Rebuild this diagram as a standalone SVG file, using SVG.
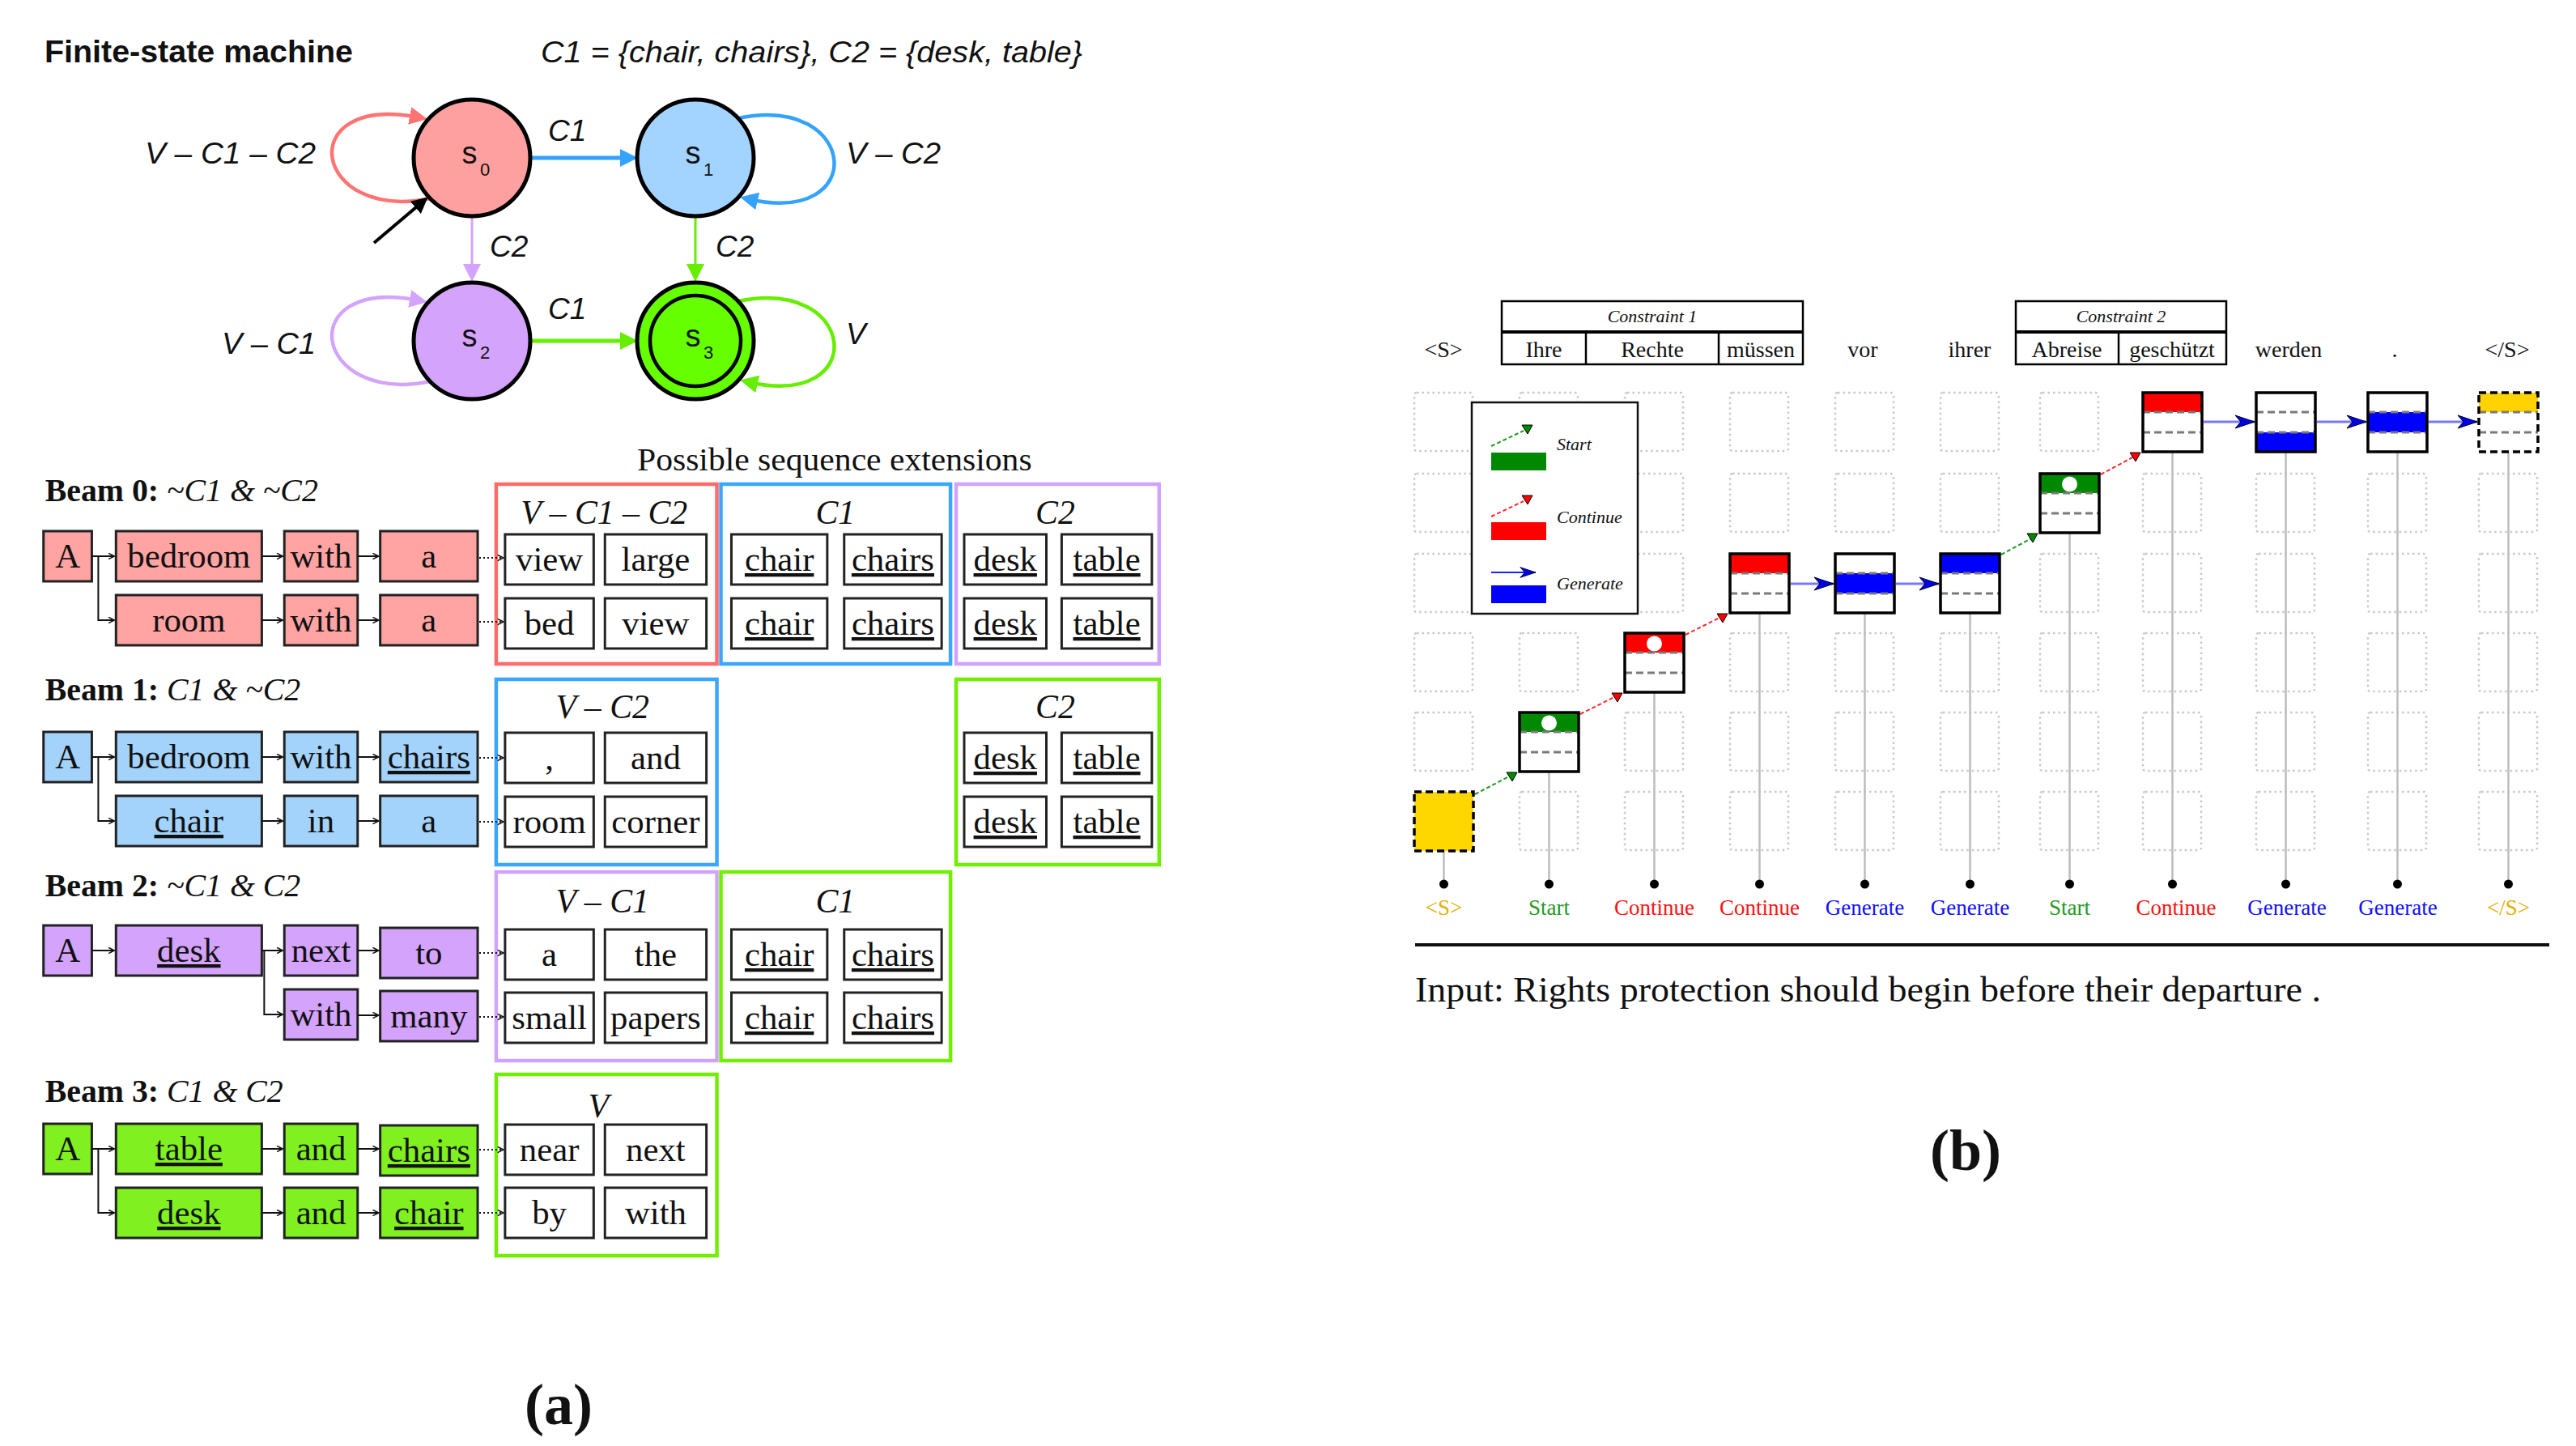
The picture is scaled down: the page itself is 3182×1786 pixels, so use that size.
<svg xmlns="http://www.w3.org/2000/svg" xmlns:xlink="http://www.w3.org/1999/xlink" width="3182" height="1786" viewBox="0 0 3182 1786">
<style>
.fl{font-family:"Liberation Sans",Arial,sans-serif;font-style:italic;font-size:37px;fill:#111}
.w{font-family:"Liberation Serif","Times New Roman",serif;font-size:43px;text-anchor:middle;fill:#111}
.ul{text-decoration:underline}
.hdr{font-family:"Liberation Serif","Times New Roman",serif;font-style:italic;font-size:42px;text-anchor:middle;fill:#111}
.beam{font-family:"Liberation Serif","Times New Roman",serif;font-size:40px;fill:#111}
.bR{fill:#ffa3a3;stroke:#222;stroke-width:3}
.bB{fill:#a3d3fb;stroke:#222;stroke-width:3}
.bL{fill:#d4a3fc;stroke:#222;stroke-width:3}
.bG{fill:#80f020;stroke:#222;stroke-width:3}
.bW{fill:#fff;stroke:#222;stroke-width:3}
.grp{fill:none;stroke-width:4.5}
.sa{stroke:#111;stroke-width:2;fill:none;marker-end:url(#sm)}
.sd{stroke:#111;stroke-width:2;fill:none;stroke-dasharray:2 3;marker-end:url(#sm)}
.dot{fill:none;stroke:#c8c8c8;stroke-width:2.5;stroke-dasharray:2.5 4}
.bb{fill:none;stroke:#000;stroke-width:3.5}
.bbd{fill:none;stroke:#000;stroke-width:3.5;stroke-dasharray:9 5}
.gl{stroke:#7a7a7a;stroke-width:3;stroke-dasharray:9 5}
.vl{stroke:#bdbdbd;stroke-width:2.5}
.gen{stroke:#7878ff;stroke-width:3;fill:none;marker-end:url(#stealth)}
.st{stroke:#1f9a1f;stroke-width:2;stroke-dasharray:5 3;fill:none}
.co{stroke:#ff2a2a;stroke-width:2;stroke-dasharray:5 3;fill:none}
.trG{fill:#008800;stroke:#000;stroke-width:1}
.trR{fill:#ff0000;stroke:#000;stroke-width:1}
.lbl{font-family:"Liberation Serif","Times New Roman",serif;font-size:27px;text-anchor:middle}
.tw{font-family:"Liberation Serif","Times New Roman",serif;font-size:28px;text-anchor:middle;fill:#111}
.ci{font-family:"Liberation Serif","Times New Roman",serif;font-style:italic;font-size:22px;text-anchor:middle;fill:#111}
.lg{font-family:"Liberation Serif","Times New Roman",serif;font-style:italic;font-size:22px;fill:#111}
</style>
<defs>
<marker id="mR" viewBox="0 0 10 10" refX="5" refY="5" markerWidth="22" markerHeight="22" markerUnits="userSpaceOnUse" orient="auto"><path d="M0,0 L10,5 L0,10 z" fill="#ff7373"/></marker>
<marker id="mB" viewBox="0 0 10 10" refX="5" refY="5" markerWidth="22" markerHeight="22" markerUnits="userSpaceOnUse" orient="auto"><path d="M0,0 L10,5 L0,10 z" fill="#35a2ff"/></marker>
<marker id="mL" viewBox="0 0 10 10" refX="5" refY="5" markerWidth="22" markerHeight="22" markerUnits="userSpaceOnUse" orient="auto"><path d="M0,0 L10,5 L0,10 z" fill="#d4a3fc"/></marker>
<marker id="mG" viewBox="0 0 10 10" refX="5" refY="5" markerWidth="22" markerHeight="22" markerUnits="userSpaceOnUse" orient="auto"><path d="M0,0 L10,5 L0,10 z" fill="#66ee00"/></marker>
<marker id="mK" viewBox="0 0 10 10" refX="5" refY="5" markerWidth="20" markerHeight="20" markerUnits="userSpaceOnUse" orient="auto"><path d="M0,0 L10,5 L0,10 z" fill="#000"/></marker>
<marker id="sm" viewBox="0 0 10 10" refX="9" refY="5" markerWidth="9" markerHeight="9" markerUnits="userSpaceOnUse" orient="auto"><path d="M1,1 L9,5 L1,9" fill="none" stroke="#111" stroke-width="1.8"/></marker>
<marker id="stealth" viewBox="-25 -10 27 20" refX="0" refY="0" markerWidth="27" markerHeight="20" markerUnits="userSpaceOnUse" orient="auto"><path d="M0,0 L-24,-8 L-17,0 L-24,8 Z" fill="#0000ee" stroke="#000" stroke-width="1"/></marker>
<marker id="stealthS" viewBox="-25 -10 27 20" refX="0" refY="0" markerWidth="22" markerHeight="16" markerUnits="userSpaceOnUse" orient="auto"><path d="M0,0 L-24,-8 L-17,0 L-24,8 Z" fill="#0000ee" stroke="#000" stroke-width="1"/></marker>
<rect id="dc" class="dot" width="72" height="72" rx="3"/>
</defs>
<rect width="3182" height="1786" fill="#fff"/>

<!-- ============ PART (a) : FSM ============ -->
<text x="55" y="77" font-family="Liberation Sans,Arial,sans-serif" font-weight="bold" font-size="38" textLength="381" lengthAdjust="spacingAndGlyphs" fill="#111">Finite-state machine</text>
<text x="668" y="77" class="fl" textLength="669" lengthAdjust="spacingAndGlyphs">C1 = {chair, chairs}, C2 = {desk, table}</text>

<g id="fsm-edges">
<path d="M532,245 C385,275 360,115 517,145" fill="none" stroke="#ff7373" stroke-width="4.5" marker-end="url(#mR)"/>
<path d="M532,471 C385,501 360,341 517,371" fill="none" stroke="#d4a3fc" stroke-width="4.5" marker-end="url(#mL)"/>
<path d="M912,146 C1060,115 1075,280 925,246" fill="none" stroke="#35a2ff" stroke-width="4.5" marker-end="url(#mB)"/>
<path d="M912,372 C1060,341 1075,506 925,472" fill="none" stroke="#66ee00" stroke-width="4.5" marker-end="url(#mG)"/>
<path d="M655,195 H777" stroke="#35a2ff" stroke-width="5" marker-end="url(#mB)"/>
<path d="M655,421 H777" stroke="#66ee00" stroke-width="5" marker-end="url(#mG)"/>
<path d="M583,267 V337" stroke="#d4a3fc" stroke-width="3" marker-end="url(#mL)"/>
<path d="M859,267 V337" stroke="#66ee00" stroke-width="3" marker-end="url(#mG)"/>
<path d="M462,300 L521,250" stroke="#000" stroke-width="4" marker-end="url(#mK)"/>
<text class="fl" x="179" y="202" textLength="211" lengthAdjust="spacingAndGlyphs">V – C1 – C2</text>
<text class="fl" x="1045" y="202" textLength="117" lengthAdjust="spacingAndGlyphs">V – C2</text>
<text class="fl" x="274" y="437" textLength="116" lengthAdjust="spacingAndGlyphs">V – C1</text>
<text class="fl" x="1045" y="425">V</text>
<text class="fl" x="677" y="174">C1</text>
<text class="fl" x="605" y="317">C2</text>
<text class="fl" x="884" y="317">C2</text>
<text class="fl" x="677" y="394">C1</text>
</g>
<g id="s0"><circle cx="583" cy="195" r="72" fill="#ffa0a0" stroke="#000" stroke-width="5"/><text x="580" y="202" font-family="Liberation Sans,Arial,sans-serif" font-size="38" text-anchor="middle" fill="#111">s</text><text x="593" y="217" font-family="Liberation Sans,Arial,sans-serif" font-size="22" fill="#111">0</text></g>
<g id="s1"><circle cx="859" cy="195" r="72" fill="#a3d3ff" stroke="#000" stroke-width="5"/><text x="856" y="202" font-family="Liberation Sans,Arial,sans-serif" font-size="38" text-anchor="middle" fill="#111">s</text><text x="869" y="217" font-family="Liberation Sans,Arial,sans-serif" font-size="22" fill="#111">1</text></g>
<g id="s2"><circle cx="583" cy="421" r="72" fill="#d4a3fc" stroke="#000" stroke-width="5"/><text x="580" y="428" font-family="Liberation Sans,Arial,sans-serif" font-size="38" text-anchor="middle" fill="#111">s</text><text x="593" y="443" font-family="Liberation Sans,Arial,sans-serif" font-size="22" fill="#111">2</text></g>
<g id="s3"><circle cx="859" cy="421" r="72" fill="#66ff00" stroke="#000" stroke-width="5"/><circle cx="859" cy="421" r="56" fill="none" stroke="#000" stroke-width="4.5"/><text x="856" y="428" font-family="Liberation Sans,Arial,sans-serif" font-size="38" text-anchor="middle" fill="#111">s</text><text x="869" y="443" font-family="Liberation Sans,Arial,sans-serif" font-size="22" fill="#111">3</text></g>

<!-- ============ PART (a) : beams ============ -->
<g id="beams" transform="matrix(0.995,0,0,1,0,0)">
<text x="1036" y="581" font-family="Liberation Serif,Times New Roman,serif" font-size="40" text-anchor="middle" textLength="490" lengthAdjust="spacingAndGlyphs" fill="#111">Possible sequence extensions</text>

<!-- Beam 0 -->
<text class="beam" x="56" y="619"><tspan font-weight="bold">Beam 0:</tspan><tspan font-style="italic"> ~C1 &amp; ~C2</tspan></text>
<g id="b0-grp-v">
<rect class="grp" x="616" y="598" width="274" height="222" stroke="#ff6b6b"/><text class="hdr" x="750" y="647">V – C1 – C2</text></g>
<g id="b0-grp-c1"><rect class="grp" x="895" y="598" width="285" height="222" stroke="#3aa6ff"/><text class="hdr" x="1037" y="647">C1</text></g>
<g id="b0-grp-c2"><rect class="grp" x="1187" y="598" width="252" height="222" stroke="#d0a3ff"/><text class="hdr" x="1310" y="647">C2</text></g>
<g id="b0-A"><rect class="bR" x="54" y="656" width="60" height="62"/><text class="w" x="84" y="701">A</text></g>
<g id="b0-a1"><rect class="bR" x="144" y="656" width="181" height="62"/><text class="w" x="234.5" y="701">bedroom</text></g>
<g id="b0-a2"><rect class="bR" x="353" y="656" width="91" height="62"/><text class="w" x="398.5" y="701">with</text></g>
<g id="b0-a3"><rect class="bR" x="472" y="656" width="121" height="62"/><text class="w" x="532.5" y="701">a</text></g>
<g id="b0-b1"><rect class="bR" x="144" y="735" width="181" height="62"/><text class="w" x="234.5" y="780">room</text></g>
<g id="b0-b2"><rect class="bR" x="353" y="735" width="91" height="62"/><text class="w" x="398.5" y="780">with</text></g>
<g id="b0-b3"><rect class="bR" x="472" y="735" width="121" height="62"/><text class="w" x="532.5" y="780">a</text></g>
<g id="b0-ea1"><rect class="bW" x="627" y="660" width="110" height="62"/><text class="w" x="682" y="705">view</text></g>
<g id="b0-ea2"><rect class="bW" x="751" y="660" width="126" height="62"/><text class="w" x="814" y="705">large</text></g>
<g id="b0-ea3"><rect class="bW" x="908" y="660" width="119" height="62"/><text class="w ul" x="967.5" y="705">chair</text></g>
<g id="b0-ea4"><rect class="bW" x="1048" y="660" width="121" height="62"/><text class="w ul" x="1108.5" y="705">chairs</text></g>
<g id="b0-ea5"><rect class="bW" x="1197" y="660" width="102" height="62"/><text class="w ul" x="1248" y="705">desk</text></g>
<g id="b0-ea6"><rect class="bW" x="1318" y="660" width="112" height="62"/><text class="w ul" x="1374" y="705">table</text></g>
<g id="b0-eb1"><rect class="bW" x="627" y="739" width="110" height="62"/><text class="w" x="682" y="784">bed</text></g>
<g id="b0-eb2"><rect class="bW" x="751" y="739" width="126" height="62"/><text class="w" x="814" y="784">view</text></g>
<g id="b0-eb3"><rect class="bW" x="908" y="739" width="119" height="62"/><text class="w ul" x="967.5" y="784">chair</text></g>
<g id="b0-eb4"><rect class="bW" x="1048" y="739" width="121" height="62"/><text class="w ul" x="1108.5" y="784">chairs</text></g>
<g id="b0-eb5"><rect class="bW" x="1197" y="739" width="102" height="62"/><text class="w ul" x="1248" y="784">desk</text></g>
<g id="b0-eb6"><rect class="bW" x="1318" y="739" width="112" height="62"/><text class="w ul" x="1374" y="784">table</text></g>

<!-- Beam 1 -->
<text class="beam" x="56" y="865"><tspan font-weight="bold">Beam 1:</tspan><tspan font-style="italic"> C1 &amp; ~C2</tspan></text>
<g id="b1-grp-v"><rect class="grp" x="616" y="839" width="274" height="229" stroke="#3aa6ff"/><text class="hdr" x="748" y="887">V – C2</text></g>
<g id="b1-grp-c2"><rect class="grp" x="1187" y="839" width="252" height="229" stroke="#70f000"/><text class="hdr" x="1310" y="887">C2</text></g>
<g id="b1-A"><rect class="bB" x="54" y="904" width="60" height="62"/><text class="w" x="84" y="949">A</text></g>
<g id="b1-a1"><rect class="bB" x="144" y="904" width="181" height="62"/><text class="w" x="234.5" y="949">bedroom</text></g>
<g id="b1-a2"><rect class="bB" x="353" y="904" width="91" height="62"/><text class="w" x="398.5" y="949">with</text></g>
<g id="b1-a3"><rect class="bB" x="472" y="904" width="121" height="62"/><text class="w ul" x="532.5" y="949">chairs</text></g>
<g id="b1-b1"><rect class="bB" x="144" y="983" width="181" height="62"/><text class="w ul" x="234.5" y="1028">chair</text></g>
<g id="b1-b2"><rect class="bB" x="353" y="983" width="91" height="62"/><text class="w" x="398.5" y="1028">in</text></g>
<g id="b1-b3"><rect class="bB" x="472" y="983" width="121" height="62"/><text class="w" x="532.5" y="1028">a</text></g>
<g id="b1-ea1"><rect class="bW" x="627" y="905" width="110" height="62"/><text class="w" x="682" y="950">,</text></g>
<g id="b1-ea2"><rect class="bW" x="751" y="905" width="126" height="62"/><text class="w" x="814" y="950">and</text></g>
<g id="b1-ea5"><rect class="bW" x="1197" y="905" width="102" height="62"/><text class="w ul" x="1248" y="950">desk</text></g>
<g id="b1-ea6"><rect class="bW" x="1318" y="905" width="112" height="62"/><text class="w ul" x="1374" y="950">table</text></g>
<g id="b1-eb1"><rect class="bW" x="627" y="984" width="110" height="62"/><text class="w" x="682" y="1029">room</text></g>
<g id="b1-eb2"><rect class="bW" x="751" y="984" width="126" height="62"/><text class="w" x="814" y="1029">corner</text></g>
<g id="b1-eb5"><rect class="bW" x="1197" y="984" width="102" height="62"/><text class="w ul" x="1248" y="1029">desk</text></g>
<g id="b1-eb6"><rect class="bW" x="1318" y="984" width="112" height="62"/><text class="w ul" x="1374" y="1029">table</text></g>

<!-- Beam 2 -->
<text class="beam" x="56" y="1107"><tspan font-weight="bold">Beam 2:</tspan><tspan font-style="italic"> ~C1 &amp; C2</tspan></text>
<g id="b2-grp-v"><rect class="grp" x="616" y="1077" width="274" height="233" stroke="#d0a3ff"/><text class="hdr" x="748" y="1127">V – C1</text></g>
<g id="b2-grp-c1"><rect class="grp" x="895" y="1077" width="285" height="233" stroke="#70f000"/><text class="hdr" x="1037" y="1127">C1</text></g>
<g id="b2-A"><rect class="bL" x="54" y="1143" width="60" height="62"/><text class="w" x="84" y="1188">A</text></g>
<g id="b2-a1"><rect class="bL" x="144" y="1143" width="181" height="62"/><text class="w ul" x="234.5" y="1188">desk</text></g>
<g id="b2-a2"><rect class="bL" x="353" y="1143" width="91" height="62"/><text class="w" x="398.5" y="1188">next</text></g>
<g id="b2-a3"><rect class="bL" x="472" y="1146" width="121" height="62"/><text class="w" x="532.5" y="1191">to</text></g>
<g id="b2-b2"><rect class="bL" x="353" y="1222" width="91" height="62"/><text class="w" x="398.5" y="1267">with</text></g>
<g id="b2-b3"><rect class="bL" x="472" y="1224" width="121" height="62"/><text class="w" x="532.5" y="1269">many</text></g>
<g id="b2-ea1"><rect class="bW" x="627" y="1148" width="110" height="62"/><text class="w" x="682" y="1193">a</text></g>
<g id="b2-ea2"><rect class="bW" x="751" y="1148" width="126" height="62"/><text class="w" x="814" y="1193">the</text></g>
<g id="b2-ea3"><rect class="bW" x="908" y="1148" width="119" height="62"/><text class="w ul" x="967.5" y="1193">chair</text></g>
<g id="b2-ea4"><rect class="bW" x="1048" y="1148" width="121" height="62"/><text class="w ul" x="1108.5" y="1193">chairs</text></g>
<g id="b2-eb1"><rect class="bW" x="627" y="1226" width="110" height="62"/><text class="w" x="682" y="1271">small</text></g>
<g id="b2-eb2"><rect class="bW" x="751" y="1226" width="126" height="62"/><text class="w" x="814" y="1271">papers</text></g>
<g id="b2-eb3"><rect class="bW" x="908" y="1226" width="119" height="62"/><text class="w ul" x="967.5" y="1271">chair</text></g>
<g id="b2-eb4"><rect class="bW" x="1048" y="1226" width="121" height="62"/><text class="w ul" x="1108.5" y="1271">chairs</text></g>

<!-- Beam 3 -->
<text class="beam" x="56" y="1361"><tspan font-weight="bold">Beam 3:</tspan><tspan font-style="italic"> C1 &amp; C2</tspan></text>
<g id="b3-grp-v"><rect class="grp" x="616" y="1327" width="274" height="224" stroke="#70f000"/><text class="hdr" x="743" y="1380">V</text></g>
<g id="b3-A"><rect class="bG" x="54" y="1388" width="60" height="62"/><text class="w" x="84" y="1433">A</text></g>
<g id="b3-a1"><rect class="bG" x="144" y="1388" width="181" height="62"/><text class="w ul" x="234.5" y="1433">table</text></g>
<g id="b3-a2"><rect class="bG" x="353" y="1388" width="91" height="62"/><text class="w" x="398.5" y="1433">and</text></g>
<g id="b3-a3"><rect class="bG" x="472" y="1390" width="121" height="62"/><text class="w ul" x="532.5" y="1435">chairs</text></g>
<g id="b3-b1"><rect class="bG" x="144" y="1467" width="181" height="62"/><text class="w ul" x="234.5" y="1512">desk</text></g>
<g id="b3-b2"><rect class="bG" x="353" y="1467" width="91" height="62"/><text class="w" x="398.5" y="1512">and</text></g>
<g id="b3-b3"><rect class="bG" x="472" y="1467" width="121" height="62"/><text class="w ul" x="532.5" y="1512">chair</text></g>
<g id="b3-ea1"><rect class="bW" x="627" y="1389" width="110" height="62"/><text class="w" x="682" y="1434">near</text></g>
<g id="b3-ea2"><rect class="bW" x="751" y="1389" width="126" height="62"/><text class="w" x="814" y="1434">next</text></g>
<g id="b3-eb1"><rect class="bW" x="627" y="1467" width="110" height="62"/><text class="w" x="682" y="1512">by</text></g>
<g id="b3-eb2"><rect class="bW" x="751" y="1467" width="126" height="62"/><text class="w" x="814" y="1512">with</text></g>

<g id="beam-connectors">
<path class="sa" d="M114,687 H142"/><path class="sa" d="M122,687 V766 H142"/>
<path class="sa" d="M325,687 H351"/><path class="sa" d="M444,687 H470"/><path class="sd" d="M595,689 H625"/>
<path class="sa" d="M325,766 H351"/><path class="sa" d="M444,766 H470"/><path class="sd" d="M595,768 H625"/>
<path class="sa" d="M114,935 H142"/><path class="sa" d="M122,935 V1014 H142"/>
<path class="sa" d="M325,935 H351"/><path class="sa" d="M444,935 H470"/><path class="sd" d="M595,936 H625"/>
<path class="sa" d="M325,1014 H351"/><path class="sa" d="M444,1014 H470"/><path class="sd" d="M595,1015 H625"/>
<path class="sa" d="M114,1174 H142"/><path class="sa" d="M325,1174 H351"/><path class="sa" d="M328,1174 V1253 H351"/>
<path class="sa" d="M444,1174 H470"/><path class="sd" d="M595,1177 H625"/>
<path class="sa" d="M444,1254 H470"/><path class="sd" d="M595,1256 H625"/>
<path class="sa" d="M114,1419 H142"/><path class="sa" d="M122,1419 V1498 H142"/>
<path class="sa" d="M325,1419 H351"/><path class="sa" d="M444,1419 H470"/><path class="sd" d="M595,1420 H625"/>
<path class="sa" d="M325,1498 H351"/><path class="sa" d="M444,1498 H470"/><path class="sd" d="M595,1498 H625"/>
</g>
</g>

<text x="690" y="1759" font-family="Liberation Serif,Times New Roman,serif" font-weight="bold" font-size="72" text-anchor="middle" fill="#111">(a)</text>

<!-- ============ PART (b) ============ -->
<g id="header-words">
<text class="tw" x="1783" y="441">&lt;S&gt;</text>
<g id="constraint1">
<rect x="1855" y="372" width="372" height="78" fill="none" stroke="#000" stroke-width="2.5"/>
<line x1="1855" y1="410" x2="2227" y2="410" stroke="#000" stroke-width="4"/>
<line x1="1959" y1="410" x2="1959" y2="450" stroke="#000" stroke-width="2.5"/>
<line x1="2123" y1="410" x2="2123" y2="450" stroke="#000" stroke-width="2.5"/>
<text class="ci" x="2041" y="398">Constraint 1</text>
<text class="tw" x="1907" y="441">Ihre</text>
<text class="tw" x="2041" y="441">Rechte</text>
<text class="tw" x="2175" y="441">müssen</text>
</g>
<text class="tw" x="2301" y="441">vor</text>
<text class="tw" x="2433" y="441">ihrer</text>
<g id="constraint2">
<rect x="2490" y="372" width="260" height="78" fill="none" stroke="#000" stroke-width="2.5"/>
<line x1="2490" y1="410" x2="2750" y2="410" stroke="#000" stroke-width="4"/>
<line x1="2617" y1="410" x2="2617" y2="450" stroke="#000" stroke-width="2.5"/>
<text class="ci" x="2620" y="398">Constraint 2</text>
<text class="tw" x="2553" y="441">Abreise</text>
<text class="tw" x="2683" y="441">geschützt</text>
</g>
<text class="tw" x="2827" y="441">werden</text>
<text class="tw" x="2958" y="441">.</text>
<text class="tw" x="3097" y="441">&lt;/S&gt;</text>
</g>

<g id="grid">
<use href="#dc" x="1747" y="485"/><use href="#dc" x="1747" y="585"/><use href="#dc" x="1747" y="684"/><use href="#dc" x="1747" y="782"/><use href="#dc" x="1747" y="880"/>
<use href="#dc" x="1877" y="485"/><use href="#dc" x="1877" y="585"/><use href="#dc" x="1877" y="684"/><use href="#dc" x="1877" y="782"/><use href="#dc" x="1877" y="978"/>
<use href="#dc" x="2007" y="485"/><use href="#dc" x="2007" y="585"/><use href="#dc" x="2007" y="684"/><use href="#dc" x="2007" y="880"/><use href="#dc" x="2007" y="978"/>
<use href="#dc" x="2137" y="485"/><use href="#dc" x="2137" y="585"/><use href="#dc" x="2137" y="782"/><use href="#dc" x="2137" y="880"/><use href="#dc" x="2137" y="978"/>
<use href="#dc" x="2267" y="485"/><use href="#dc" x="2267" y="585"/><use href="#dc" x="2267" y="782"/><use href="#dc" x="2267" y="880"/><use href="#dc" x="2267" y="978"/>
<use href="#dc" x="2397" y="485"/><use href="#dc" x="2397" y="585"/><use href="#dc" x="2397" y="782"/><use href="#dc" x="2397" y="880"/><use href="#dc" x="2397" y="978"/>
<use href="#dc" x="2520" y="485"/><use href="#dc" x="2520" y="684"/><use href="#dc" x="2520" y="782"/><use href="#dc" x="2520" y="880"/><use href="#dc" x="2520" y="978"/>
<use href="#dc" x="2647" y="585"/><use href="#dc" x="2647" y="684"/><use href="#dc" x="2647" y="782"/><use href="#dc" x="2647" y="880"/><use href="#dc" x="2647" y="978"/>
<use href="#dc" x="2787" y="585"/><use href="#dc" x="2787" y="684"/><use href="#dc" x="2787" y="782"/><use href="#dc" x="2787" y="880"/><use href="#dc" x="2787" y="978"/>
<use href="#dc" x="2925" y="585"/><use href="#dc" x="2925" y="684"/><use href="#dc" x="2925" y="782"/><use href="#dc" x="2925" y="880"/><use href="#dc" x="2925" y="978"/>
<use href="#dc" x="3062" y="585"/><use href="#dc" x="3062" y="684"/><use href="#dc" x="3062" y="782"/><use href="#dc" x="3062" y="880"/><use href="#dc" x="3062" y="978"/>
</g>

<g id="timelines">
<line class="vl" x1="1783.5" y1="1051" x2="1783.5" y2="1092"/>
<line class="vl" x1="1913.5" y1="953" x2="1913.5" y2="1092"/>
<line class="vl" x1="2043.5" y1="855" x2="2043.5" y2="1092"/>
<line class="vl" x1="2173.5" y1="757" x2="2173.5" y2="1092"/>
<line class="vl" x1="2303.5" y1="757" x2="2303.5" y2="1092"/>
<line class="vl" x1="2433.5" y1="757" x2="2433.5" y2="1092"/>
<line class="vl" x1="2556.5" y1="658" x2="2556.5" y2="1092"/>
<line class="vl" x1="2683.5" y1="558" x2="2683.5" y2="1092"/>
<line class="vl" x1="2823.5" y1="558" x2="2823.5" y2="1092"/>
<line class="vl" x1="2961.5" y1="558" x2="2961.5" y2="1092"/>
<line class="vl" x1="3098.5" y1="558" x2="3098.5" y2="1092"/>
<g fill="#000">
<circle cx="1783.5" cy="1092" r="5.5"/><circle cx="1913.5" cy="1092" r="5.5"/><circle cx="2043.5" cy="1092" r="5.5"/><circle cx="2173.5" cy="1092" r="5.5"/><circle cx="2303.5" cy="1092" r="5.5"/><circle cx="2433.5" cy="1092" r="5.5"/><circle cx="2556.5" cy="1092" r="5.5"/><circle cx="2683.5" cy="1092" r="5.5"/><circle cx="2823.5" cy="1092" r="5.5"/><circle cx="2961.5" cy="1092" r="5.5"/><circle cx="3098.5" cy="1092" r="5.5"/>
</g>
<text class="lbl" x="1783.5" y="1130" fill="#e0b000">&lt;S&gt;</text>
<text class="lbl" x="1913.5" y="1130" fill="#1f9a1f">Start</text>
<text class="lbl" x="2043.5" y="1130" fill="#ff1010">Continue</text>
<text class="lbl" x="2173.5" y="1130" fill="#ff1010">Continue</text>
<text class="lbl" x="2303.5" y="1130" fill="#1010ff">Generate</text>
<text class="lbl" x="2433.5" y="1130" fill="#1010ff">Generate</text>
<text class="lbl" x="2556.5" y="1130" fill="#1f9a1f">Start</text>
<text class="lbl" x="2688" y="1130" fill="#ff1010">Continue</text>
<text class="lbl" x="2825" y="1130" fill="#1010ff">Generate</text>
<text class="lbl" x="2962" y="1130" fill="#1010ff">Generate</text>
<text class="lbl" x="3098.5" y="1130" fill="#e0b000">&lt;/S&gt;</text>
</g>

<g id="search-connectors">
<path class="st" d="M1822,981 L1864,959"/><polygon class="trG" points="1861,954 1874,954 1868,965"/>
<path class="co" d="M1952,882 L1994,861"/><polygon class="trR" points="1991,856 2004,856 1998,867"/>
<path class="co" d="M2082,784 L2124,763"/><polygon class="trR" points="2121,758 2134,758 2128,769"/>
<path class="st" d="M2472,685 L2511,664"/><polygon class="trG" points="2504,659 2517,659 2511,670"/>
<path class="co" d="M2595,586 L2636,564"/><polygon class="trR" points="2631,559 2644,559 2638,570"/>
<path class="gen" d="M2212,721 L2265,721"/>
<path class="gen" d="M2342,721 L2395,721"/>
<path class="gen" d="M2722,521 L2785,521"/>
<path class="gen" d="M2862,521 L2923,521"/>
<path class="gen" d="M3000,521 L3060,521"/>
</g>

<g id="state-c0"><rect x="1747" y="978" width="73" height="73" fill="#ffd700"/><rect class="bbd" x="1747" y="978" width="73" height="73"/></g>
<g id="state-c1"><rect x="1877" y="880" width="73" height="73" fill="#fff"/><rect x="1877" y="880" width="73" height="24" fill="#008800"/><circle cx="1913.5" cy="893" r="9.5" fill="#fff"/><line class="gl" x1="1877" y1="904" x2="1950" y2="904"/><line class="gl" x1="1877" y1="929" x2="1950" y2="929"/><rect class="bb" x="1877" y="880" width="73" height="73"/></g>
<g id="state-c2"><rect x="2007" y="782" width="73" height="73" fill="#fff"/><rect x="2007" y="782" width="73" height="24" fill="#ff0000"/><circle cx="2043.5" cy="795" r="9.5" fill="#fff"/><line class="gl" x1="2007" y1="806" x2="2080" y2="806"/><line class="gl" x1="2007" y1="831" x2="2080" y2="831"/><rect class="bb" x="2007" y="782" width="73" height="73"/></g>
<g id="state-c3"><rect x="2137" y="684" width="73" height="73" fill="#fff"/><rect x="2137" y="684" width="73" height="24" fill="#ff0000"/><line class="gl" x1="2137" y1="708" x2="2210" y2="708"/><line class="gl" x1="2137" y1="733" x2="2210" y2="733"/><rect class="bb" x="2137" y="684" width="73" height="73"/></g>
<g id="state-c4"><rect x="2267" y="684" width="73" height="73" fill="#fff"/><rect x="2267" y="708" width="73" height="25" fill="#0000ff"/><line class="gl" x1="2267" y1="708" x2="2340" y2="708"/><line class="gl" x1="2267" y1="733" x2="2340" y2="733"/><rect class="bb" x="2267" y="684" width="73" height="73"/></g>
<g id="state-c5"><rect x="2397" y="684" width="73" height="73" fill="#fff"/><rect x="2397" y="684" width="73" height="24" fill="#0000ff"/><line class="gl" x1="2397" y1="708" x2="2470" y2="708"/><line class="gl" x1="2397" y1="733" x2="2470" y2="733"/><rect class="bb" x="2397" y="684" width="73" height="73"/></g>
<g id="state-c6"><rect x="2520" y="585" width="73" height="73" fill="#fff"/><rect x="2520" y="585" width="73" height="24" fill="#008800"/><circle cx="2556.5" cy="598" r="9.5" fill="#fff"/><line class="gl" x1="2520" y1="609" x2="2593" y2="609"/><line class="gl" x1="2520" y1="634" x2="2593" y2="634"/><rect class="bb" x="2520" y="585" width="73" height="73"/></g>
<g id="state-c7"><rect x="2647" y="485" width="73" height="73" fill="#fff"/><rect x="2647" y="485" width="73" height="24" fill="#ff0000"/><line class="gl" x1="2647" y1="509" x2="2720" y2="509"/><line class="gl" x1="2647" y1="534" x2="2720" y2="534"/><rect class="bb" x="2647" y="485" width="73" height="73"/></g>
<g id="state-c8"><rect x="2787" y="485" width="73" height="73" fill="#fff"/><rect x="2787" y="534" width="73" height="24" fill="#0000ff"/><line class="gl" x1="2787" y1="509" x2="2860" y2="509"/><line class="gl" x1="2787" y1="534" x2="2860" y2="534"/><rect class="bb" x="2787" y="485" width="73" height="73"/></g>
<g id="state-c9"><rect x="2925" y="485" width="73" height="73" fill="#fff"/><rect x="2925" y="509" width="73" height="25" fill="#0000ff"/><line class="gl" x1="2925" y1="509" x2="2998" y2="509"/><line class="gl" x1="2925" y1="534" x2="2998" y2="534"/><rect class="bb" x="2925" y="485" width="73" height="73"/></g>
<g id="state-c10"><rect x="3062" y="485" width="73" height="73" fill="#fff"/><rect x="3062" y="485" width="73" height="24" fill="#ffd200"/><line class="gl" x1="3062" y1="509" x2="3135" y2="509"/><line class="gl" x1="3062" y1="534" x2="3135" y2="534"/><rect class="bbd" x="3062" y="485" width="73" height="73"/></g>

<g id="legend">
<rect x="1818" y="497" width="205" height="261" fill="#fff" stroke="#111" stroke-width="2.5"/>
<path class="st" d="M1842,551 L1882,532"/><polygon class="trG" points="1880,525 1893,525 1887,536"/>
<rect x="1842" y="559" width="68" height="22" fill="#008800"/>
<text class="lg" x="1923" y="556">Start</text>
<path class="co" d="M1842,638 L1882,619"/><polygon class="trR" points="1880,612 1893,612 1887,623"/>
<rect x="1842" y="645" width="68" height="22" fill="#ff0000"/>
<text class="lg" x="1923" y="646">Continue</text>
<path d="M1842,707 L1897,707" stroke="#2020ff" stroke-width="1.8" marker-end="url(#stealthS)"/>
<rect x="1842" y="723" width="68" height="22" fill="#0000ff"/>
<text class="lg" x="1923" y="728">Generate</text>
</g>

<line x1="1748" y1="1167" x2="3149" y2="1167" stroke="#111" stroke-width="4"/>
<text x="1748" y="1237" font-family="Liberation Serif,Times New Roman,serif" font-size="45" textLength="1119" lengthAdjust="spacingAndGlyphs" fill="#111">Input: Rights protection should begin before their departure .</text>
<text x="2428" y="1445" font-family="Liberation Serif,Times New Roman,serif" font-weight="bold" font-size="72" text-anchor="middle" fill="#111">(b)</text>
</svg>
